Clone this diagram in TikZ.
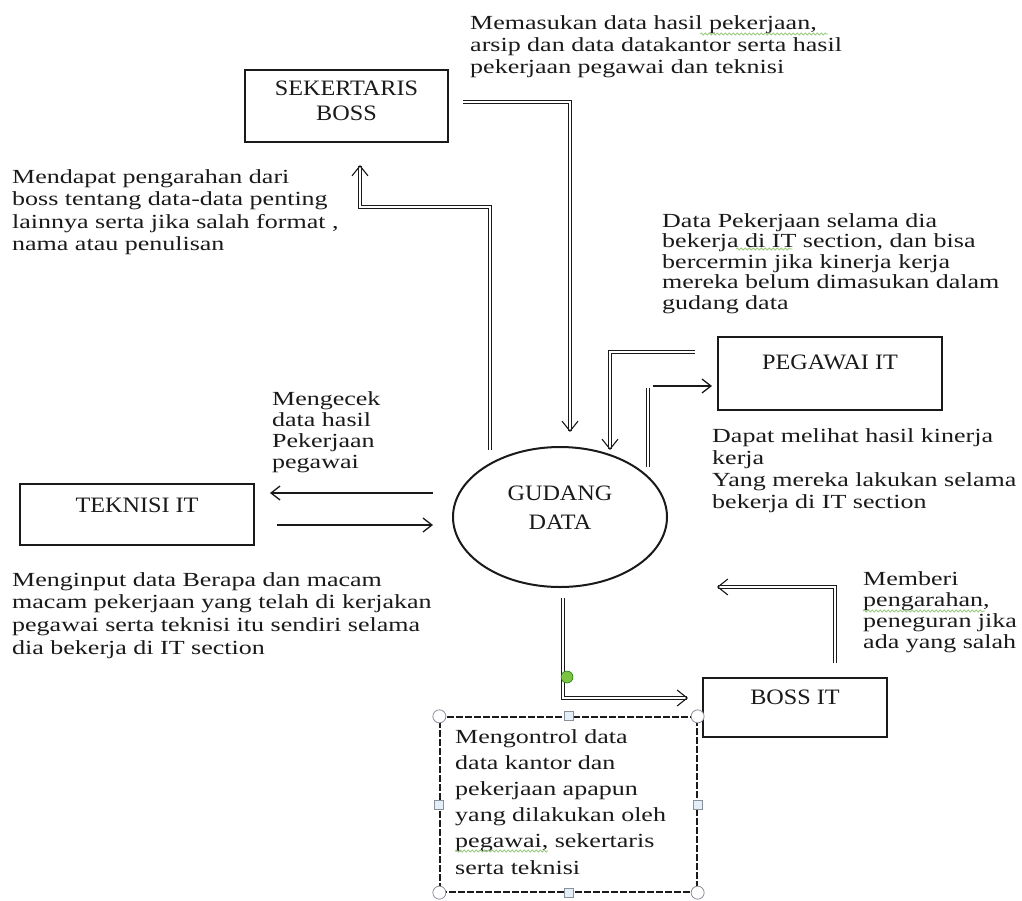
\documentclass[tikz,border=0pt]{standalone}
\usepackage{fontspec}
\setmainfont{Liberation Serif}
\newfontfamily\bodyfont[FakeStretch=1.3]{Liberation Serif}
\newfontfamily\labelfont[FakeStretch=1.1]{Liberation Serif}
\usetikzlibrary{shapes.geometric,arrows.meta,decorations.pathmorphing}
\definecolor{ink}{HTML}{1A1A1A}
\definecolor{handleedge}{HTML}{8A8F98}
\definecolor{handlefill}{HTML}{E4EEF8}
\definecolor{dotgreen}{HTML}{7DC243}
\definecolor{squiggle}{HTML}{9CCB80}
\begin{document}
\begin{tikzpicture}[x=1pt,y=-1pt,
  entity/.style={draw=ink,line width=2.3pt,rectangle,inner sep=0pt},
  store/.style={draw=ink,line width=2pt,ellipse,inner sep=0pt,
    minimum width=214pt,minimum height=140pt},
  lbl/.style={font=\labelfont\fontsize{22}{#1}\selectfont,text=ink,
    align=center,inner sep=0pt},
  lbl/.default=25,
  note/.style={font=\bodyfont\fontsize{20}{#1}\selectfont,text=ink,
    align=left,anchor=north west,inner sep=0pt},
  note/.default=22,
  flow/.style={draw=ink,line width=1pt,double=white,double distance=2.2pt,
    line join=miter,-{Straight Barb[length=10pt,width=16pt,line width=1.1pt]}},
  flowplain/.style={draw=ink,line width=1pt,double=white,double distance=2.2pt},
  single/.style={draw=ink,line width=1.3pt,
    -{Straight Barb[length=9pt,width=14pt]}},
  handle/.style={draw=handleedge,fill=white,line width=0.8pt},
  sidehandle/.style={draw=handleedge,fill=handlefill,line width=0.8pt,
    minimum size=9pt,inner sep=0pt,rectangle},
  spell/.style={draw=squiggle,line width=0.8pt,
    decorate,decoration={snake,amplitude=1pt,segment length=4pt}},
]
\fill[white] (0,0) rectangle (1022,900);
\useasboundingbox (0,0) rectangle (1022,900);

% external entities and the data store
\node[entity,minimum width=203pt,minimum height=72pt] (sek) at (346.5,106) {};
\node[lbl,yshift=5pt] (sektxt) at (sek.center) {SEKERTARIS\\BOSS};

\node[entity,minimum width=224pt,minimum height=73pt] (peg) at (830,373.5) {};
\node[lbl,yshift=11pt] (pegtxt) at (peg.center) {PEGAWAI IT};

\node[entity,minimum width=234pt,minimum height=61pt] (tek) at (137,514.5) {};
\node[lbl,yshift=9pt] (tektxt) at (tek.center) {TEKNISI IT};

\node[entity,minimum width=184pt,minimum height=59pt] (boss) at (795,707.5) {};
\node[lbl,yshift=10pt] (bosstxt) at (boss.center) {BOSS IT};

\node[store] (gd) at (560,517) {};
\node[lbl=29] (gdtxt) at (560,507.5) {GUDANG\\DATA};

% flow end points and bends
\coordinate (a1) at (490,450);   \coordinate (a1b) at (360,207); \coordinate (a1e) at (360,165);
\coordinate (a2) at (463,102);   \coordinate (a2e) at (570,432);
\coordinate (a3) at (695,352);   \coordinate (a3e) at (610,450);
\coordinate (a4) at (648,467);   \coordinate (a4b) at (648,388);
\coordinate (a4c) at (653,386);  \coordinate (a4e) at (712,386);
\coordinate (t1) at (433,493);   \coordinate (t1e) at (270,493);
\coordinate (t2) at (277,525);   \coordinate (t2e) at (433,525);
\coordinate (b1) at (835,663);   \coordinate (b1e) at (717,587);
\coordinate (g1) at (563,598);   \coordinate (g1e) at (688,698);

% data flows
\draw[flow] (a1) |- (a1b) -- (a1e);
\draw[flow] (a2) -| (a2e);
\draw[flow] (a3) -| (a3e);
\draw[flowplain] (a4) -- (a4b);
\draw[single] (a4c) -- (a4e);
\draw[single] (t1) -- (t1e);
\draw[single] (t2) -- (t2e);
\draw[flow] (b1) |- (b1e);
\draw[flow] (g1) |- (g1e);
\fill[dotgreen,draw=green!45!black,line width=0.5pt] (567,677) circle (6pt);

% selected text box with its handles
\node[draw=ink,dash pattern=on 7pt off 2pt,line width=1.3pt,
      minimum width=257pt,minimum height=175pt,inner sep=0pt] (ctl) at (568.5,804.5) {};
\draw[handle] (ctl.north west) circle (6.5pt);
\draw[handle] (ctl.north east) circle (6.5pt);
\draw[handle] (ctl.south west) circle (6.5pt);
\draw[handle] (ctl.south east) circle (6.5pt);
\node[sidehandle] (hn) at (ctl.north) {};
\node[sidehandle] (hs) at (ctl.south) {};
\node[sidehandle] (hw) at (ctl.west) {};
\node[sidehandle] (he) at (ctl.east) {};

% flow descriptions
\node[note] (na) at (470,15) {Memasukan data hasil pekerjaan,\\arsip dan data datakantor serta hasil\\pekerjaan pegawai dan teknisi};
\node[note=22.5] (nb) at (12,169) {Mendapat pengarahan dari\\boss tentang data-data penting\\lainnya serta jika salah format ,\\nama atau penulisan};
\node[note=20.5] (nc) at (662,213) {Data Pekerjaan selama dia\\bekerja di IT section, dan bisa\\bercermin jika kinerja kerja\\mereka belum dimasukan dalam\\gudang data};
\node[note] (nd) at (712,428) {Dapat melihat hasil kinerja\\kerja\\Yang mereka lakukan selama\\bekerja di IT section};
\node[note=21] (ne) at (272,391) {Mengecek\\data hasil\\Pekerjaan\\pegawai};
\node[note=22.7] (nf) at (12,572) {Menginput data Berapa dan macam\\macam pekerjaan yang telah di kerjakan\\pegawai serta teknisi itu sendiri selama\\dia bekerja di IT section};
\node[note=21] (ng) at (863,571) {Memberi\\pengarahan,\\peneguran jika\\ada yang salah};
\node[note=26.2] (nh) at (455,729) {Mengontrol data\\data kantor dan\\pekerjaan apapun\\yang dilakukan oleh\\pegawai, sekertaris\\serta teknisi};

% spelling-check underlines
\draw[spell] (700,34) -- (828,34);
\draw[spell] (736,249) -- (792,249);
\draw[spell] (863,611) -- (985,611);
\draw[spell] (455,851) -- (548,851);
\end{tikzpicture}
\end{document}
